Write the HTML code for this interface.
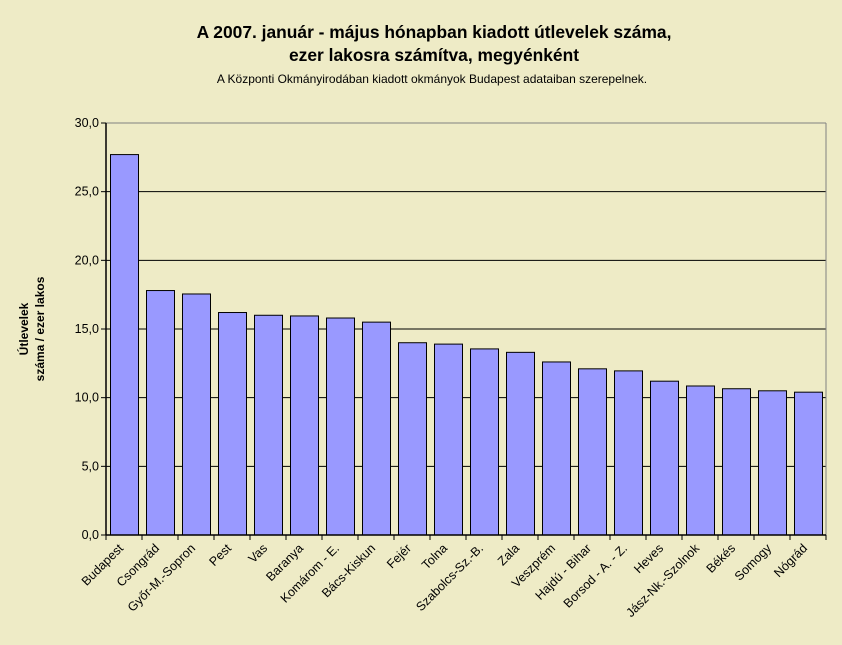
<!DOCTYPE html>
<html><head><meta charset="utf-8"><style>
html,body{margin:0;padding:0;background:#EEEBC6;}
svg{display:block;font-family:"Liberation Sans",sans-serif;}
</style></head><body>
<svg id="chart" width="842" height="645" viewBox="0 0 842 645">
<rect x="0" y="0" width="842" height="645" fill="#EEEBC6"/>
<text x="434" y="38" text-anchor="middle" font-size="17.4" font-weight="bold">A 2007. január - május hónapban kiadott útlevelek száma,</text>
<text x="434" y="61" text-anchor="middle" font-size="17.4" font-weight="bold">ezer lakosra számítva, megyénként</text>
<text x="432" y="83" text-anchor="middle" font-size="12">A Központi Okmányirodában kiadott okmányok Budapest adataiban szerepelnek.</text>
<text transform="translate(28,329) rotate(-90)" text-anchor="middle" font-size="12" font-weight="bold"><tspan x="0" dy="0">Útlevelek</tspan><tspan x="0" dy="16">száma / ezer lakos</tspan></text>
<g id="grid"></g><g id="bars"></g><g id="axes"></g>
</svg>
<script>
const categories=["Budapest","Csongrád","Győr-M.-Sopron","Pest","Vas","Baranya","Komárom - E.","Bács-Kiskun","Fejér","Tolna","Szabolcs-Sz.-B.","Zala","Veszprém","Hajdú - Bihar","Borsod - A. - Z.","Heves","Jász-Nk.-Szolnok","Békés","Somogy","Nógrád"];
const values=[27.7,17.8,17.55,16.2,16.0,15.95,15.8,15.5,14.0,13.9,13.55,13.3,12.6,12.1,11.95,11.2,10.85,10.65,10.5,10.4];
const yTicks=[0,5,10,15,20,25,30];
const yTickLabels=["0,0","5,0","10,0","15,0","20,0","25,0","30,0"];
const NS="http://www.w3.org/2000/svg";
const L=106,R=826,T=123,B=535,yMax=30;
const y=v=>B-(v/yMax)*(B-T);
const band=(R-L)/categories.length;
const x=i=>L+i*band;
function mk(tag,attrs,parent){const e=document.createElementNS(NS,tag);for(const k in attrs)e.setAttribute(k,attrs[k]);parent.appendChild(e);return e;}
const grid=document.getElementById('grid'),bars=document.getElementById('bars'),axes=document.getElementById('axes');
yTicks.forEach((t,i)=>{
  if(t>0){const g=mk('line',{x1:L,x2:R,y1:y(t),y2:y(t),stroke:t===yMax?'#808080':'#000','stroke-width':1},grid);
  
  }
  const tk=mk('line',{x1:L-5,x2:L,y1:y(t),y2:y(t),stroke:'#000'},axes);
  
  
  const lb=mk('text',{x:L-7,y:y(t)+4,'text-anchor':'end','font-size':12.5},axes);
  lb.textContent=yTickLabels[i];
  
  
});
mk('line',{x1:R,x2:R,y1:T,y2:B,stroke:'#808080'},grid);
values.forEach((v,i)=>{
  const r=mk('rect',{x:x(i)+4.5,y:y(v),width:band-8,height:B-y(v),fill:'#9999FF',stroke:'#000','stroke-width':1},bars);
  
  
});
const ya=mk('line',{x1:L,x2:L,y1:T,y2:B,stroke:'#000','stroke-width':1.5},axes);


const xa=mk('line',{x1:L,x2:R,y1:B,y2:B,stroke:'#000','stroke-width':1.5},axes);


categories.forEach((c,i)=>{
  const tk=mk('line',{x1:x(i),x2:x(i),y1:B,y2:B+5,stroke:'#000'},axes);
  
  
  const cx=x(i)+band/2;
  const lb=mk('text',{transform:`translate(${cx},${B+14}) rotate(-45)`,'text-anchor':'end','font-size':12.5},axes);
  lb.textContent=c;
  
  
});
mk('line',{x1:R,x2:R,y1:B,y2:B+5,stroke:'#000'},axes);
</script>
</body></html>
